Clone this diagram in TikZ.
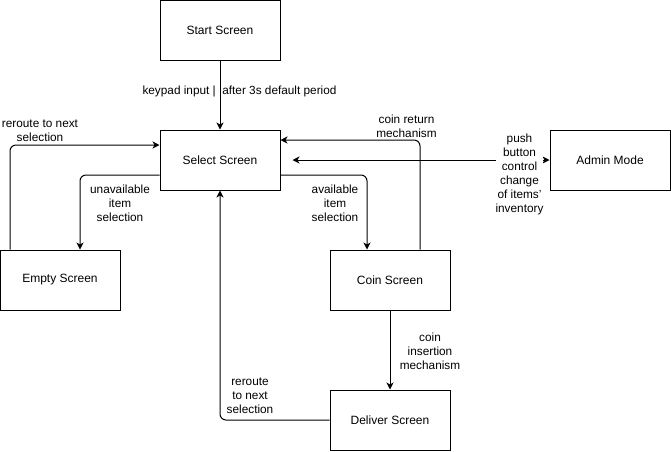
\documentclass[tikz,border=0pt]{standalone}
\usepackage{fontspec}
\setmainfont{Liberation Sans}
\usetikzlibrary{arrows.meta}
\tikzset{
  screen/.style={draw, line width=1pt, minimum width=120pt, minimum height=60pt, inner sep=0pt, font=\fontsize{12}{14}\selectfont},
  arr/.style={line width=1pt, rounded corners=6pt, -{Stealth[length=7pt,width=7pt,inset=2pt]}},
  arrboth/.style={line width=1pt, {Stealth[length=7pt,width=7pt,inset=2pt]}-{Stealth[length=7pt,width=7pt,inset=2pt]}},
  lbl/.style={align=center, inner sep=1pt, font=\fontsize{11.8}{14}\selectfont},
}
\begin{document}
\begin{tikzpicture}[x=1pt,y=-1pt]
\useasboundingbox (0,0) rectangle (671,451);
\node[screen] (start) at (220,30) {Start Screen};
\node[screen] (select) at (220,160) {Select Screen};
\node[screen] (admin) at (610,160) {Admin Mode};
\node[screen] (empty) at (60,280) {Empty Screen};
\node[screen] (coin) at (390,280) {Coin Screen};
\node[screen] (deliver) at (390,420) {Deliver Screen};

% start -> select
\draw[arr] (start) -- (select);
\node[lbl] (l1) at (239.5,91) {keypad input |\ \ after 3s default period};

% empty -> select (reroute)
\draw[arr] ([xshift=-50pt]empty.north) |- ([yshift=15pt]select.west);
\node[lbl] (l2) at (40,131) {reroute to next\\selection};

% select -> empty
\draw[arr] ([yshift=-15pt]select.west) -| ([xshift=20pt]empty.north);
\node[lbl] (l3) at (120,203) {unavailable\\item\\selection};

% select -> coin
\draw[arr] ([yshift=-15pt]select.east) -| ([xshift=-23pt]coin.north);
\node[lbl] (l4) at (335,203) {available\\item\\selection};

% coin -> select (coin return)
\draw[arr] ([xshift=30pt]coin.north) |- ([yshift=20pt]select.east);
\node[lbl] (l5) at (406.5,126) {coin return\\mechanism};

% select <-> admin
\draw[arrboth, shorten <=12pt] (select.east) -- (admin.west);
\node[lbl, fill=white, inner xsep=0pt] (l6) at (519.5,174) {push\\button\\control\\change\\of items'\\inventory};

% coin -> deliver
\draw[arr] (coin) -- (deliver);
\node[lbl] (l7) at (430,351) {coin\\insertion\\mechanism};

% deliver -> select
\draw[arr] (deliver.west) -| (select.south);
\node[lbl] (l8) at (250,396) {reroute\\to next\\selection};
\end{tikzpicture}
\end{document}
